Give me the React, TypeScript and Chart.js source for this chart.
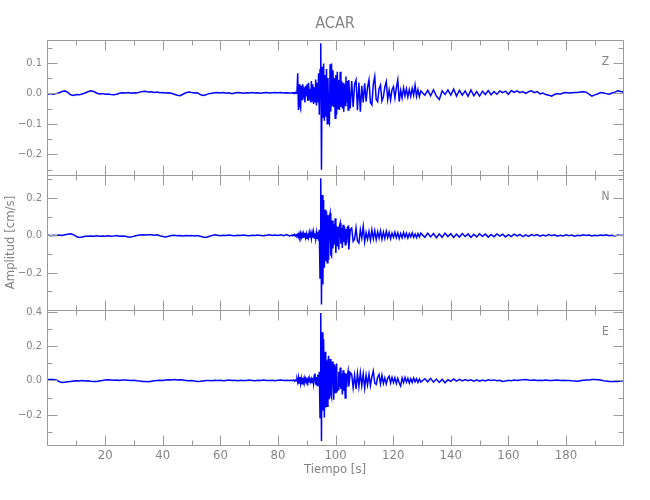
import { useEffect, useRef } from "react";
import { Chart, registerables } from "chart.js";

Chart.register(...registerables);

const TITLE = "ACAR";
const X_LABEL = "Tiempo [s]";
const Y_LABEL = "Amplitud [cm/s]";
const FONT = '"Liberation Sans Narrow", "DejaVu Sans Condensed", "Liberation Sans", sans-serif';
const TEXT_COLOR = "#858585";
const AXIS_COLOR = "#9a9a9a";
const TRACE_COLOR = "#0000ff";

const SEGMENTS = [
  { start: 0, step: 1 },
  { start: 84.85, step: 0.25 },
  { start: 105.1, step: 0.5 },
  { start: 131, step: 1 },
];

// x axis
const X_MIN = -0.2;
const X_MAX = 199.8;
const X_MAJOR = [20, 40, 60, 80, 100, 120, 140, 160, 180];
const X_MINOR = [10, 30, 50, 70, 90, 110, 130, 150, 170, 190];

// ---------- Z component ----------
const Z_A = [
  -0.002, -0.001, -0.003, -0.001, 0.002, 0.006, 0.008, 0.003, -0.005, -0.007,
  -0.004, -0.005, -0.002, 0.001, 0.005, 0.008, 0.006, 0.001, -0.002, -0.001,
  -0.003, -0.002, -0.004, -0.005, -0.003, 0.0, 0.002, 0.001, 0.003, 0.0,
  0.002, 0.001, 0.004, 0.006, 0.007, 0.004, 0.005, 0.003, 0.004, 0.002,
  0.003, 0.001, 0.002, 0.0, -0.003, -0.006, -0.008, -0.003, 0.002, 0.004,
  0.003, 0.001, 0.002, -0.004, -0.007, -0.005, -0.001, 0.0, 0.002, 0.003,
  0.001, 0.003, 0.0, 0.002, -0.001, 0.001, 0.003, 0.002, 0.0, 0.002,
  0.001, 0.003, 0.001, 0.002, 0.0, 0.002, 0.003, 0.001, 0.002, 0.003,
  0.002, 0.003, 0.001, 0.002, 0.001,
];
const Z_B = [
  0.001, 0.002, 0.0, 0.002, 0.001, 0.003, 0.0, 0.004,
  0.066, -0.055, 0.03, -0.04, -0.05, 0.025, -0.02, 0.03, -0.015, 0.02, -0.03, 0.025,
  -0.01, 0.03, -0.025, 0.035, -0.02, 0.015, -0.03, 0.04, -0.025, 0.03,
  -0.035, 0.02, -0.03, 0.045, -0.04, 0.035, -0.03, 0.066, -0.07, 0.077,
  0.164, -0.251, 0.087, -0.08, 0.098, -0.09, 0.06, -0.077, 0.08, -0.1,
  0.05, -0.09, -0.098, 0.095, -0.06, 0.098, -0.04, 0.076, -0.045, 0.05,
  -0.082, 0.06, -0.07, 0.071, -0.05, 0.044, -0.055, 0.071, -0.044, 0.04,
  -0.05, 0.035, -0.06, 0.03, -0.04, 0.055, -0.03, 0.04, -0.055, 0.044,
];
const Z_C = [
  -0.05, 0.04, -0.045, 0.03, 0.044, -0.055, 0.035, -0.06, 0.025, -0.03,
  0.033, -0.027, 0.02, 0.044, -0.03, -0.038, 0.03, 0.055, -0.02, -0.027,
  0.015, 0.027, -0.025, -0.011, 0.02, 0.038, -0.02, 0.01, -0.022, 0.012,
  0.022, -0.015, 0.018, 0.044, -0.027, 0.01, -0.015, 0.018, -0.008, 0.015,
  -0.012, 0.012, -0.01, 0.016, -0.006, 0.027, -0.01, 0.012, -0.011, 0.008,
];
const Z_D = [
  -0.006, 0.01, -0.008, 0.012, -0.009, -0.02, 0.008, -0.004, 0.011, -0.006,
  0.014, -0.009, 0.01, -0.006, 0.008, -0.01, 0.011, -0.008, 0.006, -0.009,
  0.007, -0.004, 0.009, -0.005, 0.006, -0.003, 0.008, 0.002, 0.007, -0.003,
  0.009, 0.003, 0.008, 0.002, 0.006, 0.0, 0.005, 0.008, 0.002, 0.006,
  -0.002, 0.001, -0.004, -0.006, -0.009, -0.004, -0.001, -0.003, 0.001, 0.003,
  0.001, 0.002, 0.003, 0.003, 0.004, 0.005, 0.004, -0.003, -0.009, -0.005,
  -0.002, 0.003, 0.001, -0.001, -0.003, 0.001, 0.004, 0.008, 0.006, 0.004,
];
const Z_RANGE = [-0.268, 0.175];
const Z_MAJOR = [-0.2, -0.1, 0, 0.1];
const Z_LABELS = ["\u22120.2", "\u22120.1", "0.0", "0.1"];
const Z_MINOR = [-0.25, -0.15, -0.05, 0.05, 0.15];

// ---------- N component ----------
const N_A = [
  0.002, -0.002, 0.001, -0.001, 0.002, -0.001, 0.003, 0.006, 0.009, 0.004,
  -0.006, -0.011, -0.008, -0.004, -0.005, -0.003, -0.005, -0.002, -0.004, -0.003,
  -0.005, -0.002, -0.004, -0.003, -0.001, -0.004, -0.003, -0.005, -0.008, -0.009,
  -0.004, -0.001, 0.002, 0.004, 0.002, 0.004, 0.003, 0.001, 0.003, -0.002,
  -0.006, -0.009, -0.005, -0.001, 0.001, -0.002, 0.0, -0.003, -0.001, -0.002,
  0.0, -0.003, -0.001, -0.004, -0.008, -0.011, -0.006, -0.001, 0.003, 0.001,
  -0.002, 0.001, -0.001, 0.002, 0.0, -0.002, 0.001, -0.001, 0.002, 0.0,
  -0.002, 0.001, -0.001, 0.002, 0.0, -0.002, 0.001, 0.003, -0.001, 0.002,
  0.0, 0.003, -0.002, 0.004, -0.003,
];
const N_B = [
  0.002, -0.002, 0.003, -0.001, 0.002, -0.003, 0.003, -0.002,
  0.006, -0.008, 0.01, -0.006, 0.012, -0.01, 0.008, -0.014, 0.01, -0.008, 0.014, -0.012,
  0.008, -0.016, 0.012, -0.01, 0.016, -0.012, 0.01, -0.018, 0.014, -0.012,
  0.018, -0.014, 0.012, -0.02, 0.016, -0.015, 0.02, -0.028, 0.03, -0.228,
  0.306, -0.37, 0.217, -0.263, 0.19, -0.174, 0.137, -0.139, 0.128, -0.147,
  0.11, -0.13, 0.1, 0.119, -0.103, -0.112, 0.08, -0.07, 0.06, -0.05,
  0.092, -0.094, 0.05, -0.059, 0.045, -0.076, 0.05, 0.066, -0.045, 0.04,
  -0.068, 0.057, -0.035, 0.048, -0.05, 0.035, -0.04, 0.044, 0.048, -0.076,
];
const N_C = [
  0.03, 0.039, -0.032, -0.02, 0.04, -0.03, -0.041, 0.03, -0.015, 0.048,
  -0.035, 0.015, -0.02, 0.021, -0.025, 0.03, -0.018, 0.025, -0.022, 0.02,
  -0.015, 0.024, -0.02, 0.018, -0.016, 0.022, -0.012, 0.016, -0.018, 0.012,
  -0.01, 0.018, -0.012, 0.014, -0.016, 0.01, -0.012, 0.016, -0.01, 0.012,
  -0.014, 0.01, -0.008, 0.014, -0.01, 0.008, -0.012, 0.01, -0.008, 0.012,
];
const N_D = [
  -0.01, 0.012, -0.008, 0.01, -0.012, 0.008, -0.01, 0.012, -0.006, 0.009,
  -0.011, 0.007, -0.009, 0.01, -0.006, 0.008, -0.01, 0.006, -0.008, 0.009,
  -0.005, 0.007, -0.009, 0.005, -0.007, 0.008, -0.004, 0.006, -0.008, 0.004,
  -0.006, 0.007, -0.003, 0.005, -0.006, 0.003, -0.005, 0.004, -0.002, 0.004,
  -0.004, 0.002, -0.003, 0.004, -0.002, 0.003, -0.004, 0.001, -0.003, 0.003,
  -0.002, 0.002, -0.004, 0.001, -0.002, 0.003, -0.001, 0.002, -0.003, 0.001,
  -0.002, 0.002, -0.001, 0.003, -0.002, 0.001, -0.003, 0.002, -0.001, 0.001,
];
const N_RANGE = [-0.4, 0.324];
const N_MAJOR = [-0.2, 0, 0.2];
const N_LABELS = ["\u22120.2", "0.0", "0.2"];
const N_MINOR = [-0.3, -0.1, 0.1, 0.3];

// ---------- E component ----------
const E_A = [
  0.006, 0.005, 0.006, 0.002, -0.006, -0.012, -0.01, -0.008, -0.006, -0.004,
  -0.002, -0.004, -0.001, -0.003, -0.002, -0.005, -0.006, -0.006, -0.003, -0.001,
  0.002, 0.004, 0.003, 0.001, 0.002, 0.0, 0.003, 0.002, 0.001, -0.001,
  0.001, -0.002, -0.004, -0.006, -0.007, -0.008, -0.005, -0.002, 0.0, 0.001,
  -0.001, 0.002, 0.004, 0.003, 0.005, 0.003, 0.004, 0.002, 0.0, -0.002,
  -0.001, -0.004, -0.006, -0.005, -0.003, -0.001, 0.0, -0.002, 0.001, -0.001,
  0.001, -0.002, 0.0, 0.002, -0.001, 0.001, -0.002, 0.001, 0.0, -0.001,
  0.002, 0.0, -0.002, 0.001, -0.001, 0.002, 0.0, -0.001, 0.001, -0.002,
  0.001, 0.002, -0.001, 0.001, 0.0,
];
const E_B = [
  0.001, -0.001, 0.002, 0.0, -0.002, 0.002, -0.001, 0.006,
  -0.012, 0.018, -0.015, 0.02, -0.018, 0.012, -0.02, 0.015, -0.01, 0.014, -0.008, 0.01,
  -0.01, 0.008, -0.006, 0.01, -0.008, 0.006, -0.01, 0.008, -0.012, 0.015,
  -0.02, 0.03, 0.04, -0.025, 0.02, -0.03, 0.035, -0.028, 0.05, -0.216,
  0.392, -0.353, 0.28, -0.176, 0.24, -0.216, 0.167, -0.157, 0.12, -0.151,
  0.1, 0.143, -0.11, 0.124, -0.08, -0.098, 0.11, 0.08, -0.112, 0.094,
  -0.07, 0.07, 0.098, -0.06, -0.053, 0.05, -0.04, 0.075, -0.05, 0.04,
  -0.082, 0.059, -0.06, 0.045, -0.102, 0.04, -0.04, 0.03, 0.055, -0.035,
];
const E_C = [
  0.045, 0.035, -0.043, 0.03, -0.05, 0.04, -0.035, 0.045, -0.03, 0.038,
  -0.045, 0.03, -0.025, 0.035, -0.03, 0.02, 0.055, -0.015, -0.024, 0.018,
  0.035, -0.02, 0.03, -0.018, 0.015, -0.02, 0.012, 0.025, -0.015, 0.018,
  -0.012, 0.015, -0.018, 0.012, -0.015, -0.033, 0.015, -0.012, 0.018, -0.01,
  0.012, -0.015, 0.01, -0.012, 0.014, -0.008, 0.01, -0.012, 0.008, -0.01,
];
const E_D = [
  0.01, -0.008, 0.012, -0.01, 0.008, -0.012, 0.006, -0.014, 0.004, -0.006,
  0.008, -0.004, 0.006, -0.003, 0.005, -0.002, 0.004, -0.004, 0.003, -0.005,
  0.002, -0.003, 0.004, 0.0, 0.003, -0.002, 0.001, -0.006, -0.004, 0.001,
  -0.002, 0.002, -0.001, 0.003, 0.004, 0.006, 0.003, 0.001, 0.002, 0.0,
  0.001, -0.001, 0.002, 0.0, -0.001, 0.001, 0.002, 0.0, 0.001, -0.001,
  0.0, -0.002, -0.003, -0.005, -0.002, 0.001, 0.002, 0.003, 0.005, 0.006,
  0.004, 0.002, -0.002, -0.004, -0.006, -0.007, -0.005, -0.006, -0.004, -0.003,
];
const E_RANGE = [-0.376, 0.41];
const E_MAJOR = [-0.2, 0, 0.2, 0.4];
const E_LABELS = ["\u22120.2", "0.0", "0.2", "0.4"];
const E_MINOR = [-0.3, -0.1, 0.1, 0.3];

type Panel = {
  id: string;
  name: string;
  parts: number[][];
  range: number[];
  major: number[];
  labels: string[];
  minor: number[];
};

const PANELS: Panel[] = [
  { id: "yZ", name: "Z", parts: [Z_A, Z_B, Z_C, Z_D], range: Z_RANGE, major: Z_MAJOR, labels: Z_LABELS, minor: Z_MINOR },
  { id: "yN", name: "N", parts: [N_A, N_B, N_C, N_D], range: N_RANGE, major: N_MAJOR, labels: N_LABELS, minor: N_MINOR },
  { id: "yE", name: "E", parts: [E_A, E_B, E_C, E_D], range: E_RANGE, major: E_MAJOR, labels: E_LABELS, minor: E_MINOR },
];

function toPoints(parts: number[][]) {
  const pts: { x: number; y: number }[] = [];
  parts.forEach((vals, s) => {
    const seg = SEGMENTS[s];
    vals.forEach((v, i) => pts.push({ x: seg.start + seg.step * i, y: v }));
  });
  return pts;
}

const framePlugin = {
  id: "panelFrames",
  afterDatasetsDraw(chart: any) {
    const { ctx } = chart;
    const xs = chart.scales.x;
    const L = Math.round(xs.left) + 0.5;
    const R = Math.round(xs.right) + 0.5;
    ctx.save();
    ctx.strokeStyle = AXIS_COLOR;
    ctx.lineWidth = 1;
    PANELS.forEach((p) => {
      const ys = chart.scales[p.id];
      const T = Math.round(ys.top) + 0.5;
      const B = Math.round(ys.bottom) + 0.5;
      ctx.beginPath();
      ctx.rect(L, T, R - L, B - T);
      const yTick = (v: number, len: number) => {
        const y = Math.round(ys.getPixelForValue(v)) + 0.5;
        ctx.moveTo(L, y);
        ctx.lineTo(L + len, y);
        ctx.moveTo(R, y);
        ctx.lineTo(R - len, y);
      };
      const xTick = (v: number, len: number) => {
        const x = Math.round(xs.getPixelForValue(v)) + 0.5;
        ctx.moveTo(x, T);
        ctx.lineTo(x, T + len);
        ctx.moveTo(x, B);
        ctx.lineTo(x, B - len);
      };
      p.major.forEach((v) => yTick(v, 10));
      p.minor.forEach((v) => yTick(v, 5));
      X_MAJOR.forEach((v) => xTick(v, 10));
      X_MINOR.forEach((v) => xTick(v, 5));
      ctx.stroke();
      ctx.fillStyle = TEXT_COLOR;
      ctx.font = `12px ${FONT}`;
      ctx.textAlign = "center";
      ctx.textBaseline = "middle";
      ctx.fillText(p.name, R - 18, T + 21);
    });
    ctx.restore();
  },
};

function yScale(p: Panel, withTitle: boolean) {
  return {
    type: "linear",
    position: "left",
    stack: "panels",
    stackWeight: 1,
    min: p.range[0],
    max: p.range[1],
    grid: { display: false, drawTicks: false },
    border: { display: false },
    afterBuildTicks: (s: any) => {
      s.ticks = p.major.map((v) => ({ value: v }));
    },
    afterFit: (s: any) => {
      s.width = 47;
    },
    ticks: {
      color: TEXT_COLOR,
      font: { family: FONT, size: 11 },
      padding: 5,
      autoSkip: false,
      callback: (v: number) => {
        const i = p.major.findIndex((m) => Math.abs(m - v) < 1e-9);
        return i >= 0 ? p.labels[i] : "";
      },
    },
    title: {
      display: withTitle,
      text: Y_LABEL,
      color: TEXT_COLOR,
      font: { family: FONT, size: 13 },
      padding: { top: 3, bottom: 0 },
    },
  };
}

export default function App() {
  const ref = useRef<HTMLCanvasElement | null>(null);
  useEffect(() => {
    if (!ref.current) return;
    const datasets = PANELS.map((p) => ({
      label: p.name,
      data: toPoints(p.parts),
      yAxisID: p.id,
      borderColor: TRACE_COLOR,
      borderWidth: 1.5,
      pointRadius: 0,
      tension: 0,
      fill: false,
    }));
    const chart = new Chart(ref.current, {
      type: "line",
      data: { datasets },
      options: {
        responsive: false,
        animation: false,
        layout: { padding: { left: 0, right: 27, top: 0, bottom: 0 } },
        plugins: {
          legend: { display: false },
          tooltip: { enabled: false },
          title: {
            display: true,
            fullSize: false,
            text: TITLE,
            color: TEXT_COLOR,
            font: { family: FONT, size: 16, weight: "normal" },
            padding: { top: 14, bottom: 6.8 },
          },
        },
        scales: {
          x: {
            type: "linear",
            position: "bottom",
            min: X_MIN,
            max: X_MAX,
            grid: { display: false, drawTicks: false },
            border: { display: false },
            afterBuildTicks: (s: any) => {
              s.ticks = X_MAJOR.map((v) => ({ value: v }));
            },
            afterFit: (s: any) => {
              s.height = 55;
            },
            ticks: {
              color: TEXT_COLOR,
              font: { family: FONT, size: 13 },
              padding: 3,
              maxRotation: 0,
              autoSkip: false,
              callback: (v: number) => String(v),
            },
            title: {
              display: true,
              text: X_LABEL,
              color: TEXT_COLOR,
              font: { family: FONT, size: 13 },
              padding: { top: 0, bottom: 23 },
            },
          },
          yE: yScale(PANELS[2], false),
          yN: yScale(PANELS[1], true),
          yZ: yScale(PANELS[0], false),
        },
      } as any,
      plugins: [framePlugin],
    });
    return () => chart.destroy();
  }, []);
  return (
    <div style={{ position: "absolute", left: 0, top: 0, width: 650, height: 500, background: "#fff" }}>
      <canvas ref={ref} width={650} height={500} />
    </div>
  );
}
